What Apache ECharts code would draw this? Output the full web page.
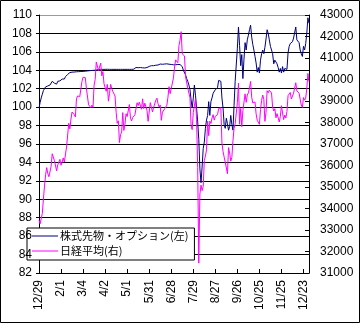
<!DOCTYPE html>
<html>
<head>
<meta charset="utf-8">
<script src="https://cdn.jsdelivr.net/npm/echarts@6/dist/echarts.min.js"></script>
<style>
html,body{margin:0;padding:0;background:#fff;}
#chart{width:360px;height:324px;}
</style>
</head>
<body>
<div id="chart"></div>
<script>
// Trading days, 2023/12/29 - 2024/12/30
const dates = [
  '12/29',
  '1/4','1/5','1/9','1/10','1/11','1/12','1/15','1/16','1/17','1/18','1/19','1/22','1/23','1/24','1/25','1/26','1/29','1/30','1/31',
  '2/1','2/2','2/5','2/6','2/7','2/8','2/9','2/13','2/14','2/15','2/16','2/19','2/20','2/21','2/22','2/26','2/27','2/28','2/29',
  '3/1','3/4','3/5','3/6','3/7','3/8','3/11','3/12','3/13','3/14','3/15','3/18','3/19','3/21','3/22','3/25','3/26','3/27','3/28','3/29',
  '4/1','4/2','4/3','4/4','4/5','4/8','4/9','4/10','4/11','4/12','4/15','4/16','4/17','4/18','4/19','4/22','4/23','4/24','4/25','4/26','4/30',
  '5/1','5/2','5/7','5/8','5/9','5/10','5/13','5/14','5/15','5/16','5/17','5/20','5/21','5/22','5/23','5/24','5/27','5/28','5/29','5/30','5/31',
  '6/3','6/4','6/5','6/6','6/7','6/10','6/11','6/12','6/13','6/14','6/17','6/18','6/19','6/20','6/21','6/24','6/25','6/26','6/27','6/28',
  '7/1','7/2','7/3','7/4','7/5','7/8','7/9','7/10','7/11','7/12','7/16','7/17','7/18','7/19','7/22','7/23','7/24','7/25','7/26','7/29','7/30','7/31',
  '8/1','8/2','8/5','8/6','8/7','8/8','8/9','8/13','8/14','8/15','8/16','8/19','8/20','8/21','8/22','8/23','8/26','8/27','8/28','8/29','8/30',
  '9/2','9/3','9/4','9/5','9/6','9/9','9/10','9/11','9/12','9/13','9/17','9/18','9/19','9/20','9/24','9/25','9/26','9/27','9/30',
  '10/1','10/2','10/3','10/4','10/7','10/8','10/9','10/10','10/11','10/15','10/16','10/17','10/18','10/21','10/22','10/23','10/24','10/25','10/28','10/29','10/30','10/31',
  '11/1','11/5','11/6','11/7','11/8','11/11','11/12','11/13','11/14','11/15','11/18','11/19','11/20','11/21','11/22','11/25','11/26','11/27','11/28','11/29',
  '12/2','12/3','12/4','12/5','12/6','12/9','12/10','12/11','12/12','12/13','12/16','12/17','12/18','12/19','12/20','12/23','12/24','12/25','12/26','12/27','12/30'
];

// 株式先物・オプション (left axis)
const fundValues = [
  99.9,100.5,101.0,101.4,101.8,102.0,102.2,102.2,102.3,102.4,
  102.4,102.6,102.8,102.6,102.6,102.5,102.5,102.8,102.95,102.85,
  103.0,103.05,103.0,103.05,103.3,103.4,103.55,103.7,103.75,103.78,
  103.8,103.8,103.81,103.83,103.84,103.85,103.85,103.86,103.87,103.88,
  103.88,103.9,103.9,103.92,103.93,103.95,103.96,103.97,103.98,104.0,
  104.0,104.02,104.03,104.05,104.08,104.08,104.1,104.1,104.1,104.1,
  104.1,104.1,104.11,104.1,104.1,104.1,104.1,104.11,104.1,104.1,
  104.1,104.1,104.1,104.1,104.1,104.1,104.1,104.1,104.1,104.1,
  104.1,104.1,104.1,104.1,104.1,104.12,104.12,104.25,104.3,104.3,
  104.28,104.3,104.3,104.28,104.27,104.28,104.25,104.2,104.3,104.4,
  104.42,104.5,104.5,104.52,104.5,104.53,104.55,104.55,104.57,104.6,
  104.68,104.67,104.65,104.66,104.68,104.67,104.7,104.68,104.66,104.65,
  104.63,104.62,104.6,104.55,104.6,104.62,104.63,104.65,104.62,104.6,
  104.4,104.0,103.8,103.5,103.1,102.8,102.4,101.9,100.8,99.9,
  101.0,102.4,101.3,99.9,98.4,96.5,93.3,91.8,93.5,95.5,
  96.2,97.7,98.6,99.1,100.6,99.1,100.6,101.0,101.5,101.3,
  101.9,102.0,102.1,102.9,103.1,102.8,101.0,99.9,98.1,97.7,
  98.8,98.2,97.5,97.9,99.1,98.1,97.5,100.2,102.8,102.9,
  106.4,108.7,106.7,104.5,105.7,103.1,105.2,107.0,106.2,107.3,
  107.8,108.4,108.9,107.6,106.8,106.2,105.5,104.8,103.8,104.3,
  103.7,105.1,105.8,106.2,105.8,106.5,107.4,108.4,108.0,107.3,
  106.6,106.2,105.8,104.7,105.1,104.9,104.7,104.3,103.8,104.2,
  103.7,104.4,103.8,104.2,104.0,104.1,105.9,106.6,106.9,107.0,
  107.1,107.5,107.7,108.7,107.3,107.1,107.0,106.2,105.8,105.5,
  106.6,106.2,106.9,108.0,109.7,109.1
];

// 日経平均 (right axis)
const nikkeiValues = [
  33464,
  33288,33377,33763,34441,35049,35577,35901,35619,35477,35466,35963,36546,36517,36226,36236,35751,36026,36065,36286,
  36011,36158,36354,36160,36119,36863,36897,37963,37703,38157,38487,38470,38363,38262,39098,39233,39239,39208,39166,
  39910,40109,40097,40090,39598,39688,38820,38797,38695,38807,38707,39740,40003,40815,40888,40414,40398,40762,40168,40369,
  39803,39838,39451,39773,38992,39347,39773,39581,39442,39523,39232,38471,37961,38079,37068,37438,37552,38460,37628,37934,38405,
  38274,38236,38835,38202,38073,38229,38179,38356,38385,38920,38787,38946,38946,38617,39103,38646,38900,38855,38556,38054,38487,
  38923,38837,38490,38703,38683,39038,39134,38876,38720,38814,38102,38482,38570,38633,38596,38804,39173,39667,39341,39583,
  39631,40074,40580,40913,40912,40780,41580,41831,42224,41190,41275,41097,40126,40063,39599,39594,39154,37869,37667,38468,38525,39101,
  38126,35909,31458,34675,35089,34831,35025,36232,36442,36726,38062,37388,38063,37951,38211,38364,38110,38288,38371,38362,38647,
  38700,38686,37047,36657,36391,36159,36215,35619,36833,36581,36203,36380,37155,37723,37940,37870,38925,39829,37919,
  38651,37808,38552,38635,39332,38937,39277,39380,39605,39910,39180,38911,38981,38954,38411,38104,38143,37913,38605,39027,39277,39081,
  38053,38474,39480,39381,39500,39533,39376,38721,38535,38642,38220,38414,38352,38026,38283,38780,38442,38134,38349,38208,
  38513,39248,39276,39395,39091,39160,39367,39372,39849,39470,39457,39364,39081,38813,38701,39161,39036,39130,39568,40281,39894
];

const seriesNames = ['株式先物・オプション(左)', '日経平均(右)'];
const seriesColors = ['#000080', '#ff00ff'];
const leftRange = [82, 110, 2];
const rightRange = [31000, 43000, 1000];
const labelStep = 20; // one date label every 20 trading days

const fontFamily = '"Liberation Sans", Arial, "Noto Sans CJK JP", sans-serif';
const gridCount = (leftRange[1] - leftRange[0]) / leftRange[2] + 1;
const gridColors = [];
for (let i = 0; i < gridCount; i++) gridColors.push(i === gridCount - 1 ? '#9a9a9a' : '#000');

const chart = echarts.init(document.getElementById('chart'), null, {renderer: 'canvas'});
chart.setOption({
  animation: false,
  backgroundColor: '#fff',
  textStyle: {fontFamily: fontFamily},
  graphic: [{
    type: 'rect', silent: true, z: 100,
    shape: {x: 0.5, y: 0.5, width: 359, height: 322},
    style: {fill: null, stroke: '#000', lineWidth: 1}
  }],
  grid: {left: 39, right: 51, top: 15, bottom: 51, containLabel: false},
  legend: {
    orient: 'vertical', left: 27, top: 228,
    icon: 'rect', itemWidth: 26, itemHeight: 1, itemGap: 1,
    padding: [1, 6, 2, 5],
    borderColor: '#000', borderWidth: 1, borderRadius: 0, backgroundColor: '#fff',
    textStyle: {fontSize: 11, color: '#000', fontFamily: '"Noto Sans CJK JP", sans-serif',
      lineHeight: 14, padding: [0, 0, 0, -3]},
    data: seriesNames
  },
  xAxis: {
    type: 'category', data: dates, boundaryGap: false,
    axisLine: {show: true, lineStyle: {color: '#000', width: 1}},
    axisTick: {show: true, inside: true, length: 4, interval: labelStep - 1, lineStyle: {color: '#000'}},
    axisLabel: {interval: labelStep - 1, rotate: 90, margin: 7, fontSize: 12, color: '#000', fontFamily: fontFamily},
    splitLine: {show: false}
  },
  yAxis: [{
    // left scale: line, ticks and horizontal gridlines
    type: 'value', position: 'left',
    min: leftRange[0], max: leftRange[1], interval: leftRange[2],
    axisLine: {show: true, lineStyle: {color: '#000', width: 1}},
    axisTick: {show: true, inside: false, length: 3, lineStyle: {color: '#000'}},
    axisLabel: {show: false},
    splitLine: {show: true, lineStyle: {color: gridColors, width: 1}}
  }, {
    type: 'value', position: 'right',
    min: rightRange[0], max: rightRange[1], interval: rightRange[2],
    axisLine: {show: true, lineStyle: {color: '#000', width: 1}},
    axisTick: {show: true, inside: true, length: 4, lineStyle: {color: '#000'}},
    axisLabel: {margin: 11, fontSize: 12, color: '#000', fontFamily: fontFamily,
      formatter: function (v) { return String(v); }},
    splitLine: {show: false}
  }, {
    // left scale labels, drawn above the legend box
    type: 'value', position: 'left', z: 10,
    min: leftRange[0], max: leftRange[1], interval: leftRange[2],
    axisLine: {show: false}, axisTick: {show: false}, splitLine: {show: false},
    axisLabel: {margin: 7, fontSize: 12, color: '#000', fontFamily: fontFamily}
  }],
  series: [{
    name: seriesNames[0], type: 'line', yAxisIndex: 0,
    data: fundValues, symbol: 'none',
    lineStyle: {color: seriesColors[0], width: 1}, itemStyle: {color: seriesColors[0]}
  }, {
    name: seriesNames[1], type: 'line', yAxisIndex: 1,
    data: nikkeiValues, symbol: 'none',
    lineStyle: {color: seriesColors[1], width: 1}, itemStyle: {color: seriesColors[1]}
  }]
});
</script>
</body>
</html>
